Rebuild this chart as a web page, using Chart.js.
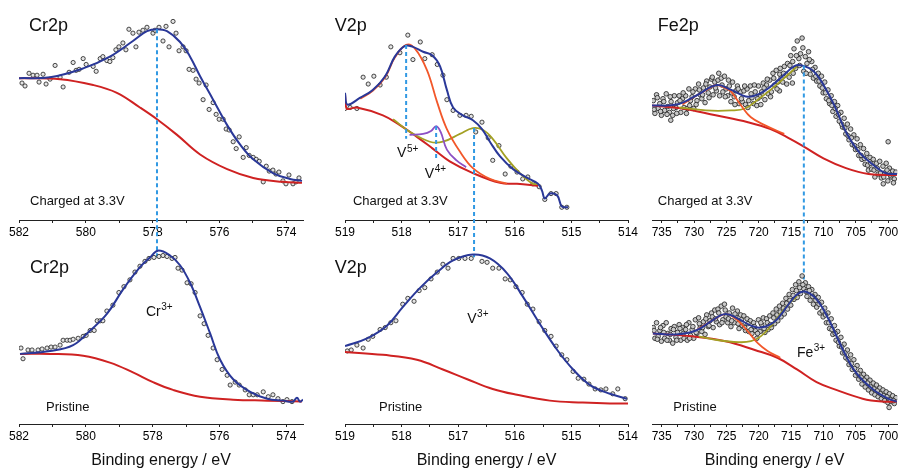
<!DOCTYPE html>
<html>
<head>
<meta charset="utf-8">
<script src="https://cdn.jsdelivr.net/npm/chart.js@4.4.1/dist/chart.umd.min.js"></script>
<style>
  body { margin: 0; background: #fff; }
  #wrap { position: relative; width: 902px; height: 470px; overflow: hidden; }
  canvas { position: absolute; }
</style>
</head>
<body>
<div id="wrap"></div>
<script>
// ---- axes ----
const crRange = [573.5, 582];
const crTickValues = [574, 575, 576, 577, 578, 579, 580, 581, 582];
const crTickLabels = [574, 576, 578, 580, 582];
const vRange = [514, 519];
const vTickValues = [514, 514.5, 515, 515.5, 516, 516.5, 517, 517.5, 518, 518.5, 519];
const vTickLabels = [514, 515, 516, 517, 518, 519];
const feRange = [698.6, 736.5];
const feTickValues = [700, 702.5, 705, 707.5, 710, 712.5, 715, 717.5, 720, 722.5, 725, 727.5, 730, 732.5, 735];
const feTickLabels = [700, 705, 710, 715, 720, 725, 730, 735];

// ---- peak positions (dashed guides) ----
const crPeak = 577.87;
const v5Peak = 517.92;
const v4Peak = 517.39;
const v3Peak = 516.72;
const fePeak = 713.03;

// ---- Cr2p, charged ----
const crTopPoints = [[581.91,140],[581.82,137],[581.70,150],[581.58,148],[581.46,148],[581.40,141],[581.28,149],[581.19,139],[581.07,144],[580.92,158],[580.77,146],[580.68,136],[580.50,151],[580.38,161],[580.29,153],[580.20,154],[580.08,165],[579.99,159],[579.78,157],[579.69,152],[579.57,165],[579.49,167],[579.37,163],[579.28,162],[579.19,166],[579.10,174],[579.01,177],[578.89,181],[578.80,174],[578.71,195],[578.59,191],[578.50,177],[578.41,192],[578.29,194],[578.17,197],[577.99,191],[577.93,194],[577.81,197],[577.69,183],[577.60,198],[577.51,177],[577.39,203],[577.30,191],[577.21,173],[577.09,177],[577.00,173],[576.91,154],[576.79,153],[576.70,144],[576.61,140],[576.49,123],[576.40,138],[576.31,113],[576.19,120],[576.10,108],[576.01,103],[575.89,103],[575.80,93],[575.71,92],[575.59,80],[575.50,73],[575.41,85],[575.29,64],[575.20,74],[575.11,66],[574.99,64],[574.90,62],[574.81,60],[574.69,39],[574.60,55],[574.51,50],[574.40,51],[574.31,47],[574.22,49],[574.10,40],[574.01,37],[573.92,46],[573.80,37],[573.71,39],[573.62,43]];
const crTopFit = [[582.00,145],[581.07,146],[580.08,155],[579.28,167],[578.59,183],[578.17,193],[577.87,195],[577.57,193],[577.18,182],[576.88,167],[576.58,147],[576.19,123],[575.77,97],[575.38,77],[574.99,62],[574.40,48],[573.89,42],[573.53,40]];
const crTopBg = [[582.00,145],[580.77,144],[579.78,138],[579.07,130],[578.38,115],[577.87,103],[577.27,87],[576.58,67],[575.77,52],[574.99,43],[574.10,39],[573.53,38]];

// ---- Cr2p, pristine ----
const crBotPoints = [[581.94,78],[581.88,67],[581.73,76],[581.61,76],[581.43,76],[581.31,77],[581.16,78],[581.04,79],[580.92,79],[580.77,81],[580.68,86],[580.56,86],[580.47,86],[580.38,87],[580.23,88],[580.08,90],[579.99,91],[579.87,96],[579.75,96],[579.66,106],[579.57,106],[579.49,106],[579.37,116],[579.19,122],[579.01,135],[578.86,141],[578.68,148],[578.53,156],[578.38,162],[578.23,167],[578.11,170],[577.96,171],[577.81,172],[577.69,173],[577.57,172],[577.42,170],[577.33,171],[577.24,160],[577.12,158],[576.97,145],[576.85,144],[576.73,135],[576.58,111],[576.46,103],[576.34,91],[576.19,78],[576.07,66],[575.92,56],[575.77,50],[575.68,40],[575.53,43],[575.41,40],[575.23,35],[575.11,30],[574.99,30],[574.87,30],[574.69,33],[574.54,28],[574.40,30],[574.25,26],[574.10,23],[573.98,25],[573.83,23]];
const crBotFit = [[581.97,72],[581.07,75],[580.38,81],[579.87,96],[579.37,113],[578.89,138],[578.38,161],[578.08,171],[577.84,178],[577.48,173],[577.18,163],[576.88,145],[576.58,120],[576.28,93],[575.98,66],[575.59,46],[575.08,33],[574.57,26],[574.10,24],[573.80,23],[573.68,27],[573.59,23],[573.50,25]];
const crBotBg = [[581.97,72],[581.07,72],[580.08,70],[579.28,63],[578.59,53],[577.99,43],[577.39,35],[576.58,28],[575.59,25],[574.57,24],[573.53,23]];

// ---- V2p, charged ----
const vTopPoints = [[519.00,114],[518.91,115],[518.79,114],[518.68,146],[518.59,139],[518.49,147],[518.38,138],[518.27,146],[518.19,177],[518.03,171],[517.89,189],[517.80,164],[517.67,182],[517.59,165],[517.46,169],[517.37,159],[517.27,148],[517.20,123],[517.09,112],[516.97,107],[516.86,107],[516.77,106],[516.69,90],[516.58,100],[516.47,84],[516.39,61],[516.28,76],[516.17,47],[516.07,55],[515.96,49],[515.86,42],[515.77,44],[515.68,37],[515.57,34],[515.47,21],[515.36,27],[515.27,27],[515.17,13],[515.08,13]];
const vTopFit = [[519.0,130],[518.96,118],[518.73,125],[518.51,133],[518.29,147],[518.12,167],[517.94,178],[517.80,177],[517.62,172],[517.45,168],[517.32,157],[517.20,133],[517.09,115],[516.92,107],[516.74,102],[516.58,93],[516.44,80],[516.26,65],[516.03,52],[515.78,43],[515.59,37],[515.52,30],[515.47,22],[515.38,27],[515.25,25],[515.17,14],[515.06,13]];
const vTopBg = [[519.0,128],[518.97,114],[518.79,115],[518.33,107],[518.03,97],[517.73,85],[517.45,73],[517.15,60],[516.74,48],[516.26,38],[515.96,37],[515.59,35]];
const vTopV5 = [[518.73,124],[518.51,132],[518.29,146],[518.12,166],[517.92,179],[517.76,175],[517.55,153],[517.37,120],[517.20,93],[516.97,70],[516.74,53],[516.44,42],[516.14,37]];
const vTopV4 = [[517.86,87],[517.62,88],[517.48,91],[517.39,96],[517.31,90],[517.20,72],[517.03,61],[516.86,54]];
const vTopV3 = [[518.15,103],[517.85,90],[517.50,80],[517.27,80],[516.97,88],[516.74,94],[516.56,92],[516.39,83],[516.14,63],[515.91,48],[515.68,37],[515.59,37]];

// ---- V2p, pristine ----
const vBotPoints = [[518.96,75],[518.89,76],[518.79,81],[518.68,78],[518.59,87],[518.51,90],[518.38,97],[518.29,99],[518.19,104],[518.10,106],[517.98,123],[517.89,129],[517.78,126],[517.69,137],[517.59,140],[517.48,149],[517.37,156],[517.27,164],[517.18,160],[517.09,170],[516.99,170],[516.88,170],[516.77,170],[516.58,167],[516.49,166],[516.39,160],[516.28,160],[516.17,149],[516.08,148],[515.98,141],[515.87,135],[515.78,123],[515.68,118],[515.57,105],[515.47,96],[515.36,90],[515.27,80],[515.17,71],[515.08,66],[514.97,54],[514.88,47],[514.78,46],[514.69,41],[514.58,36],[514.48,35],[514.39,36],[514.27,31],[514.18,36],[514.05,26]];
const vBotFit = [[519.0,80],[518.61,88],[518.26,101],[517.98,120],[517.67,140],[517.37,156],[517.09,168],[516.74,174],[516.44,170],[516.14,155],[515.86,131],[515.56,103],[515.25,76],[514.97,56],[514.67,40],[514.32,31],[514.02,26]];
const vBotBg = [[519.0,74],[518.33,71],[517.73,66],[517.27,56],[516.84,46],[516.39,36],[515.96,30],[515.38,24],[514.80,22],[514.32,21],[514.0,21]];

// ---- Fe2p, charged ----
const feTopPoints = [[736.3,122],[736.05,109],[735.8,128],[735.55,114],[735.3,119],[735.05,107],[734.8,124],[734.55,112],[734.3,129],[734.05,116],[733.8,110],[733.6,102],[733.55,121],[733.3,107],[733.05,127],[732.8,115],[732.55,120],[732.3,127],[732.05,110],[731.8,124],[731.55,115],[731.3,127],[731.05,114],[730.8,134],[730.55,122],[730.3,126],[730.05,114],[729.8,134],[729.55,122],[729.3,139],[729.05,128],[728.8,124],[728.55,135],[728.3,120],[728.05,142],[727.8,130],[727.55,136],[727.3,144],[727.05,128],[726.8,141],[726.55,132],[726.3,143],[726.05,127],[725.8,145],[725.55,131],[725.3,147],[725.05,134],[724.8,127],[724.55,137],[724.3,121],[724.05,141],[723.8,126],[723.55,132],[723.3,137],[723.05,119],[722.8,131],[722.55,121],[722.3,132],[722.05,118],[721.8,134],[721.55,122],[721.3,137],[721.05,125],[720.8,119],[720.55,131],[720.3,117],[720.05,137],[719.8,126],[719.55,131],[719.3,140],[719.05,123],[718.8,138],[718.55,129],[718.3,143],[718.05,131],[717.8,150],[717.55,138],[717.3,153],[717.05,141],[716.8,132],[716.75,149],[716.55,145],[716.3,141],[716.05,157],[715.8,149],[715.55,160],[715.3,146],[715.05,168],[714.8,140],[714.75,162],[714.55,175],[714.3,155],[714.05,183],[713.8,165],[713.55,170],[713.3,186],[713.05,152],[712.8,167],[712.55,160],[712.3,172],[712.05,149],[711.8,162],[711.55,145],[711.3,156],[711.05,142],[710.8,150],[710.55,137],[710.3,147],[710.05,130],[709.8,141],[709.55,124],[709.3,133],[709.05,119],[708.8,127],[708.55,111],[708.3,121],[708.05,106],[707.8,117],[707.55,101],[707.3,110],[707.05,95],[706.8,104],[706.55,88],[706.3,98],[706.05,82],[705.8,93],[705.55,77],[705.3,87],[705.05,72],[704.8,83],[704.55,66],[704.3,77],[704.05,62],[703.8,73],[703.55,57],[703.3,68],[703.05,51],[702.8,64],[702.55,52],[702.3,62],[702.05,44],[701.8,58],[701.55,47],[701.3,60],[701.05,43],[700.8,55],[700.75,37],[700.55,48],[700.3,58],[700.05,40],[700.0,80],[699.8,53],[699.55,44],[699.3,50],[699.05,42],[698.8,49],
  [736.18,113],[735.68,125],[735.18,111],[734.68,121],[734.18,108],[733.68,126],[733.18,114],[732.68,109],[732.18,122],[731.68,130],[731.18,109],[730.68,117],[730.18,131],[729.68,118],[729.18,133],[728.68,128],[728.18,139],[727.68,125],[727.18,146],[726.68,135],[726.18,150],[725.68,138],[725.18,126],[724.68,143],[724.18,130],[723.68,118],[723.18,134],[722.68,124],[722.18,137],[721.68,115],[721.18,129],[720.68,138],[720.18,124],[719.68,118],[719.18,135],[718.68,144],[718.18,126],[717.68,145],[717.18,134],[716.68,155],[716.18,150],[715.68,139],[715.18,158],[714.68,150],[714.18,168],[713.68,158],[713.18,176],[712.68,150],[712.18,164],[711.68,154],[711.18,147],[710.68,142],[710.18,135],[709.68,130],[709.18,122],[708.68,117],[708.18,114],[707.68,108],[707.18,98],[706.68,94],[706.18,86],[705.68,84],[705.18,76],[704.68,72],[704.18,66],[703.68,63],[703.18,56],[702.68,58],[702.18,51],[701.68,53],[701.18,48],[700.68,44],[700.18,51],[699.68,46],[699.18,38]];
const feTopFit = [[736.52,117],[732.73,118],[729.70,127],[726.52,138],[724.24,133],[721.67,126],[719.09,132],[716.67,145],[714.55,157],[713.33,158],[711.52,152],[709.55,133],[708.03,113],[706.52,90],[704.55,70],[702.42,57],[700.45,48],[698.64,47]];
const feTopBg = [[736.52,117],[731.82,114],[726.67,107],[721.67,100],[718.18,93],[715.15,83],[713.03,75],[710.00,63],[706.52,53],[703.03,47],[698.64,46]];
const feTopA = [[731.8,118],[729.7,127],[727.8,134],[726.52,138],[724.9,134],[724.24,131],[722.73,117],[721.21,105],[719.09,97],[716.06,88]];
const feTopB = [[732.27,115],[728.18,112],[724.24,112],[722.12,114],[720.15,123],[718.18,133],[716.06,145],[714.09,157]];

// ---- Fe2p, pristine ----
const feBotPoints = [[736.3,99],[736.05,88],[735.8,104],[735.55,90],[735.3,96],[735.05,85],[734.8,101],[734.55,88],[734.3,104],[734.05,93],[733.8,86],[733.55,98],[733.3,83],[733.05,100],[732.8,89],[732.55,94],[732.3,102],[732.05,86],[731.8,99],[731.55,88],[731.3,97],[731.05,86],[730.8,104],[730.55,91],[730.3,97],[730.05,88],[729.8,107],[729.55,93],[729.3,109],[729.05,99],[728.8,95],[728.55,105],[728.3,92],[728.05,112],[727.8,100],[727.55,106],[727.3,114],[727.05,99],[726.8,117],[726.55,105],[726.3,118],[726.05,102],[725.8,121],[725.55,107],[725.3,123],[725.05,110],[724.8,104],[724.55,114],[724.3,100],[724.05,119],[723.8,104],[723.55,110],[723.3,116],[723.05,98],[722.8,112],[722.55,101],[722.3,111],[722.05,96],[721.8,108],[721.55,95],[721.3,106],[721.05,93],[720.8,104],[720.55,96],[720.3,88],[720.05,107],[719.8,95],[719.55,102],[719.3,109],[719.05,94],[718.8,108],[718.55,97],[718.3,111],[718.05,99],[717.8,114],[717.55,103],[717.3,118],[717.05,106],[716.8,121],[716.55,110],[716.3,124],[716.05,113],[715.8,129],[715.55,118],[715.3,133],[715.05,122],[714.8,138],[714.55,128],[714.3,143],[714.05,130],[713.8,146],[713.55,134],[713.3,152],[713.05,139],[712.8,145],[712.55,131],[712.3,141],[712.05,127],[711.8,138],[711.55,123],[711.3,133],[711.05,120],[710.8,130],[710.55,114],[710.3,125],[710.05,110],[709.8,119],[709.55,104],[709.3,114],[709.05,98],[708.8,108],[708.55,92],[708.3,101],[708.05,86],[707.8,95],[707.55,80],[707.3,89],[707.05,73],[706.8,82],[706.55,68],[706.3,76],[706.05,61],[705.8,71],[705.55,56],[705.3,66],[705.05,50],[704.8,60],[704.55,46],[704.3,55],[704.05,41],[703.8,51],[703.55,38],[703.3,48],[703.05,35],[702.8,45],[702.55,32],[702.3,42],[702.05,30],[701.8,40],[701.55,28],[701.3,37],[701.05,26],[700.8,35],[700.55,24],[700.3,33],[700.05,22],[699.85,17],[699.8,31],[699.55,23],[699.3,29],[699.05,21],[698.8,27],
  [736.18,96],[735.68,87],[735.18,99],[734.68,94],[734.18,86],[733.68,92],[733.18,97],[732.68,86],[732.18,98],[731.68,93],[731.18,102],[730.68,88],[730.18,100],[729.68,94],[729.18,103],[728.68,99],[728.18,108],[727.68,101],[727.18,110],[726.68,108],[726.18,114],[725.68,104],[725.18,117],[724.68,108],[724.18,106],[723.68,113],[723.18,103],[722.68,107],[722.18,99],[721.68,103],[721.18,97],[720.68,100],[720.18,93],[719.68,104],[719.18,98],[718.68,104],[718.18,102],[717.68,109],[717.18,112],[716.68,115],[716.18,119],[715.68,124],[715.18,127],[714.68,132],[714.18,137],[713.68,140],[713.18,143],[712.68,136],[712.18,137],[711.68,131],[711.18,127],[710.68,123],[710.18,116],[709.68,112],[709.18,104],[708.68,97],[708.18,93],[707.68,84],[707.18,79],[706.68,73],[706.18,66],[705.68,62],[705.18,57],[704.68,52],[704.18,48],[703.68,45],[703.18,42],[702.68,38],[702.18,36],[701.68,34],[701.18,31],[700.68,29],[700.18,28],[699.68,25],[699.18,24]];
const feBotFit = [[736.36,93],[732.73,92],[729.70,96],[727.27,106],[725.15,113],[723.18,108],[721.21,101],[719.70,99],[717.58,105],[715.61,121],[714.09,133],[712.88,136],[711.06,128],[709.09,106],[706.97,76],[705.0,53],[702.42,36],[700.0,26],[698.64,23]];
const feBotBg = [[736.36,93],[730.30,90],[725.15,85],[720.61,76],[717.12,68],[714.09,56],[711.06,43],[708.03,35],[703.94,26],[700.91,23],[698.64,23]];
const feBotA = [[729.7,96],[727.27,106],[725.15,113],[724.2,111],[723.18,106],[721.67,95],[720.15,83],[718.64,75],[716.67,68]];
const feBotB = [[729.24,90],[726.21,86],[723.18,84],[721.21,85],[719.70,90],[718.18,100],[716.67,113],[715.15,125],[714.09,131]];

const FONT = '"Liberation Sans", Arial, Helvetica, sans-serif';
const BLUE = "#2a3898";
const RED = "#cf2222";
const ORANGE = "#f2572a";
const OLIVE = "#a3a023";
const PURPLE = "#8c50c4";
const DASH = "#3199e3";

Chart.defaults.font.family = FONT;
Chart.defaults.color = "#000";

const xy = (arr) => arr.map((p) => ({ x: p[0], y: p[1] }));

function curve(arr, color, w, order) {
    return { data: xy(arr), showLine: true, borderColor: color, borderWidth: w, pointRadius: 0, tension: 0.4, order: order };
}
function dots(arr, r, fill) {
    return { data: xy(arr), showLine: false, pointRadius: r, pointBackgroundColor: fill, pointBorderColor: "#1c1c1c", pointBorderWidth: 0.8, order: 9 };
}
function guide(e, from, to) {
    return { data: [{ x: e, y: from }, { x: e, y: to }], showLine: true, borderColor: DASH, borderWidth: 2, borderDash: [4, 3], pointRadius: 0, clip: false, order: 0 };
}

// text labels drawn at data positions
const panelText = {
    id: "panelText",
    afterDatasetsDraw(chart, args, opts) {
        const ctx = chart.ctx;
        const sx = chart.scales.x, sy = chart.scales.y;
        ctx.save();
        ctx.fillStyle = "#111";
        ctx.textAlign = "left";
        ctx.textBaseline = "middle";
        (opts.items || []).forEach((t) => {
            const px = sx.getPixelForValue(t.x);
            const py = sy.getPixelForValue(t.y);
            ctx.font = t.size + "px " + FONT;
            ctx.fillText(t.text, px, py);
            if (t.sup) {
                const w = ctx.measureText(t.text).width;
                ctx.font = Math.round(t.size * 0.68) + "px " + FONT;
                ctx.fillText(t.sup, px + w + 0.5, py - t.size * 0.32);
            }
        });
        ctx.restore();
    },
};

function makePanel(p) {
    const c = document.createElement("canvas");
    c.width = p.w; c.height = p.h;
    c.style.left = p.left + "px"; c.style.top = p.top + "px";
    c.style.width = p.w + "px"; c.style.height = p.h + "px";
    document.getElementById("wrap").appendChild(c);
    new Chart(c, {
        type: "scatter",
        data: { datasets: p.datasets },
        options: {
            responsive: false,
            animation: false,
            events: [],
            layout: { padding: { left: p.padLeft, right: p.padRight, top: 0, bottom: 0 } },
            scales: {
                x: {
                    type: "linear",
                    reverse: true,
                    min: p.range[0],
                    max: p.range[1],
                    afterBuildTicks: (s) => { s.ticks = p.tickValues.map((v) => ({ value: v })); },
                    afterFit: (s) => { s.height = p.axisH; },
                    ticks: {
                        autoSkip: false,
                        maxRotation: 0,
                        padding: 2,
                        color: "#000",
                        font: { size: 12 },
                        callback: (v) => (p.tickLabels.includes(v) ? String(v) : ""),
                    },
                    grid: { drawOnChartArea: false, drawTicks: true, tickLength: 3, tickColor: "#222", tickWidth: 1 },
                    border: { display: true, color: "#222", width: 1 },
                    title: {
                        display: !!p.title,
                        text: "Binding energy / eV",
                        color: "#111",
                        font: { size: 16 },
                        padding: { top: 0, bottom: 0 },
                    },
                },
                y: { display: false, min: 0, max: p.yMax },
            },
            plugins: {
                legend: { display: false },
                tooltip: { enabled: false },
                panelText: { items: p.texts },
            },
        },
        plugins: [panelText],
    });
}

// top row: chart area 0..220 px, bottom row: 240..424 px
const topRow = { top: 0, h: 300, yMax: 220, axisH: 80 };
const botRow = { top: 240, h: 230, yMax: 184, axisH: 46, title: true };

makePanel(Object.assign({}, topRow, {
    left: 0, w: 310, padLeft: 19, padRight: 7,
    range: crRange, tickValues: crTickValues, tickLabels: crTickLabels,
    datasets: [
        guide(crPeak, 195, -38),
        curve(crTopFit, BLUE, 2, 1),
        curve(crTopBg, RED, 2, 2),
        dots(crTopPoints, 2.1, "#e4e4e4"),
    ],
    texts: [
        { x: 581.70, y: 198, text: "Cr2p", size: 18 },
        { x: 581.67, y: 19, text: "Charged at 3.3V", size: 13 },
    ],
}));

makePanel(Object.assign({}, botRow, {
    left: 0, w: 310, padLeft: 19, padRight: 7,
    range: crRange, tickValues: crTickValues, tickLabels: crTickLabels,
    datasets: [
        curve(crBotFit, BLUE, 2, 1),
        curve(crBotBg, RED, 2, 2),
        dots(crBotPoints, 2.1, "#e4e4e4"),
    ],
    texts: [
        { x: 581.67, y: 160, text: "Cr2p", size: 18 },
        { x: 578.20, y: 115, text: "Cr", sup: "3+", size: 14 },
        { x: 581.19, y: 17, text: "Pristine", size: 13 },
    ],
}));

makePanel(Object.assign({}, topRow, {
    left: 320, w: 322, padLeft: 25, padRight: 14,
    range: vRange, tickValues: vTickValues, tickLabels: vTickLabels,
    datasets: [
        guide(v5Peak, 179, 83),
        guide(v4Peak, 96, 62),
        guide(v3Peak, 94, -38),
        curve(vTopFit, BLUE, 2, 1),
        curve(vTopV5, ORANGE, 1.8, 2),
        curve(vTopV4, PURPLE, 1.8, 3),
        curve(vTopV3, OLIVE, 1.8, 3),
        curve(vTopBg, RED, 2, 4),
        dots(vTopPoints, 2.1, "#e4e4e4"),
    ],
    texts: [
        { x: 519.18, y: 198, text: "V2p", size: 18 },
        { x: 518.08, y: 68, text: "V", sup: "5+", size: 14 },
        { x: 517.59, y: 47, text: "V", sup: "4+", size: 14 },
        { x: 518.86, y: 19, text: "Charged at 3.3V", size: 13 },
    ],
}));

makePanel(Object.assign({}, botRow, {
    left: 320, w: 322, padLeft: 25, padRight: 14,
    range: vRange, tickValues: vTickValues, tickLabels: vTickLabels,
    datasets: [
        curve(vBotFit, BLUE, 2, 1),
        curve(vBotBg, RED, 2, 2),
        dots(vBotPoints, 2.1, "#e4e4e4"),
    ],
    texts: [
        { x: 519.18, y: 160, text: "V2p", size: 18 },
        { x: 516.84, y: 108, text: "V", sup: "3+", size: 14 },
        { x: 518.40, y: 17, text: "Pristine", size: 13 },
    ],
}));

makePanel(Object.assign({}, topRow, {
    left: 640, w: 262, padLeft: 12, padRight: 0,
    range: feRange, tickValues: feTickValues, tickLabels: feTickLabels,
    datasets: [
        guide(fePeak, 158, -72),
        curve(feTopFit, BLUE, 2, 1),
        curve(feTopA, ORANGE, 1.8, 2),
        curve(feTopB, OLIVE, 1.8, 3),
        curve(feTopBg, RED, 2, 4),
        dots(feTopPoints, 2.3, "#c8c8c8"),
    ],
    texts: [
        { x: 735.6, y: 198, text: "Fe2p", size: 18 },
        { x: 735.6, y: 19, text: "Charged at 3.3V", size: 13 },
    ],
}));

makePanel(Object.assign({}, botRow, {
    left: 640, w: 262, padLeft: 12, padRight: 0,
    range: feRange, tickValues: feTickValues, tickLabels: feTickLabels,
    datasets: [
        curve(feBotFit, BLUE, 2, 1),
        curve(feBotA, ORANGE, 1.8, 2),
        curve(feBotB, OLIVE, 1.8, 3),
        curve(feBotBg, RED, 2, 4),
        dots(feBotPoints, 2.3, "#c8c8c8"),
    ],
    texts: [
        { x: 714.1, y: 73, text: "Fe", sup: "3+", size: 14 },
        { x: 733.2, y: 17, text: "Pristine", size: 13 },
    ],
}));
</script>
</body>
</html>
